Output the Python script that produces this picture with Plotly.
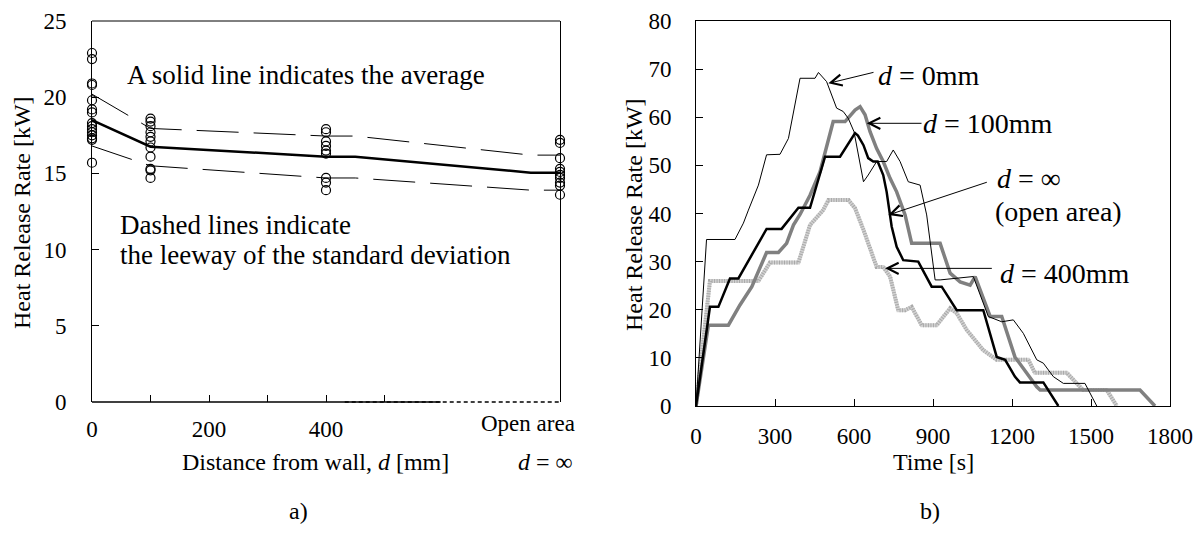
import plotly.graph_objects as go

# ---------------- Data: panel a) ----------------
d_positions = [0, 100, 400, 800]          # 800 = "Open area" position
hrr_d0 = [22.9, 22.5, 20.9, 20.8, 19.8, 19.2, 19.0, 18.3, 18.1, 17.9, 17.7, 17.5, 17.3, 17.2, 15.7]
hrr_d100 = [18.6, 18.4, 18.1, 17.7, 17.4, 17.1, 16.7, 16.1, 15.3, 15.2, 14.7]
hrr_d400 = [17.9, 17.7, 17.1, 16.8, 16.5, 16.3, 14.7, 14.4, 13.9]
hrr_open = [17.2, 17.0, 16.0, 15.3, 15.1, 14.9, 14.7, 14.4, 14.2, 13.6]

stat_x = [0, 100, 400, 450, 750, 800]
stat_avg = [18.5, 16.75, 16.1, 16.1, 15.05, 15.05]
stat_upper = [20.2, 17.95, 17.45, 17.45, 16.2, 16.2]
stat_lower = [16.8, 15.5, 14.7, 14.7, 13.9, 13.9]

a_xtickvals = [0, 100, 200, 300, 400, 500]
a_xticktext = ["0", "", "200", "", "400", ""]

# ---------------- Data: panel b) ----------------
t_d0 = [0, 40, 148, 180, 199, 237, 268, 319, 351, 395, 452, 465, 496, 534, 559, 578, 600, 636, 654,
        686, 724, 749, 775, 806, 851, 876, 908, 927, 1053, 1110, 1161, 1205, 1243, 1261, 1294, 1319,
        1357, 1395, 1477, 1522]
q_d0 = [0, 34.6, 34.6, 38.0, 40.7, 45.9, 52.2, 52.3, 55.6, 68.1, 68.1, 69.3, 67.4, 61.9, 61.2, 59.8,
        57.0, 46.6, 48.0, 50.8, 50.8, 53.2, 50.8, 46.6, 45.9, 39.7, 26.2, 26.2, 26.9, 18.6, 17.5, 17.9,
        15.1, 13.1, 9.6, 8.9, 6.1, 4.7, 4.7, 0]

t_d100 = [0, 47, 123, 167, 212, 268, 313, 344, 370, 395, 433, 471, 521, 566, 604, 623, 642, 661, 686,
          711, 737, 762, 794, 819, 927, 965, 1003, 1041, 1060, 1117, 1161, 1211, 1294, 1307, 1686, 1743]
q_d100 = [0, 16.8, 16.8, 21.0, 24.8, 31.9, 31.9, 33.8, 37.6, 39.8, 43.8, 48.7, 59.1, 59.1, 61.5, 62.2,
          60.5, 57.0, 53.5, 50.8, 47.3, 44.5, 39.7, 33.8, 33.8, 27.6, 25.8, 25.1, 26.9, 18.6, 18.6, 10.2,
          4.0, 3.3, 3.3, 0]

t_open = [0, 53, 85, 129, 161, 268, 325, 389, 433, 490, 547, 597, 604, 615, 636, 654, 673, 690, 711,
          724, 737, 743, 762, 787, 844, 895, 933, 990, 1091, 1142, 1174, 1211, 1230, 1319, 1376]
q_open = [0, 20.6, 20.6, 26.5, 26.5, 36.8, 36.8, 41.2, 41.2, 51.8, 51.8, 56.0, 56.7, 56.2, 54.2, 51.5,
          50.8, 50.8, 48.0, 44.5, 39.7, 37.3, 33.1, 30.3, 30.0, 24.8, 24.8, 19.9, 19.9, 10.2, 9.6, 6.1,
          4.9, 4.9, 0]

t_d400 = [0, 53, 237, 281, 389, 433, 483, 503, 579, 604, 636, 686, 711, 737, 768, 794, 819, 857, 914,
          965, 990, 1028, 1091, 1142, 1262, 1287, 1408, 1446, 1470, 1560, 1598]
q_d400 = [0, 26.0, 26.0, 29.8, 29.8, 37.6, 40.7, 42.8, 42.8, 41.1, 36.6, 28.9, 28.9, 26.9, 19.9, 19.9,
          20.6, 16.8, 16.8, 20.3, 19.3, 15.8, 11.6, 9.6, 9.6, 6.9, 6.9, 4.7, 3.3, 3.3, 0]

b_xtickvals = [0, 300, 600, 900, 1200, 1500, 1800]

# ---------------- Layout helpers (pixel -> paper) ----------------
W, H = 1204, 538
def px(x):
    return x / W
def py(y):
    return 1 - y / H

FONT = "Liberation Serif, Times New Roman, serif"

fig = go.Figure()

# ---- panel a) traces ----
for xpos, vals in zip(d_positions, [hrr_d0, hrr_d100, hrr_d400, hrr_open]):
    fig.add_trace(go.Scatter(
        x=[xpos] * len(vals), y=vals, mode="markers",
        marker=dict(symbol="circle-open", size=9, color="black", line=dict(width=1.2, color="black")),
        xaxis="x", yaxis="y", showlegend=False, cliponaxis=False))

fig.add_trace(go.Scatter(x=stat_x, y=stat_upper, mode="lines",
                         line=dict(color="black", width=1, dash="42px,15px"),
                         xaxis="x", yaxis="y", showlegend=False))
fig.add_trace(go.Scatter(x=stat_x, y=stat_lower, mode="lines",
                         line=dict(color="black", width=1, dash="42px,15px"),
                         xaxis="x", yaxis="y", showlegend=False))
fig.add_trace(go.Scatter(x=stat_x, y=stat_avg, mode="lines",
                         line=dict(color="black", width=2.5),
                         xaxis="x", yaxis="y", showlegend=False))

# ---- panel b) traces ----
# d = 400 mm: light grey hatched line (base + striped overlay)
fig.add_trace(go.Scatter(x=t_d400, y=q_d400, mode="lines",
                         line=dict(color="#d2d2d2", width=4),
                         xaxis="x2", yaxis="y2", showlegend=False))
fig.add_trace(go.Scatter(x=t_d400, y=q_d400, mode="lines",
                         line=dict(color="#a9a9a9", width=4, dash="1px,1.5px"),
                         xaxis="x2", yaxis="y2", showlegend=False, hoverinfo="skip"))
fig.add_trace(go.Scatter(x=t_d100, y=q_d100, mode="lines",
                         line=dict(color="#808080", width=3.5),
                         xaxis="x2", yaxis="y2", showlegend=False))
fig.add_trace(go.Scatter(x=t_open, y=q_open, mode="lines",
                         line=dict(color="black", width=2.5),
                         xaxis="x2", yaxis="y2", showlegend=False))
fig.add_trace(go.Scatter(x=t_d0, y=q_d0, mode="lines",
                         line=dict(color="black", width=1),
                         xaxis="x2", yaxis="y2", showlegend=False))

tickfont = dict(family=FONT, size=23, color="black")

fig.update_layout(
    template="none",
    width=W, height=H,
    margin=dict(l=0, r=0, t=0, b=0, autoexpand=False),
    paper_bgcolor="white", plot_bgcolor="white",
    font=dict(family=FONT, color="black"),
    xaxis=dict(domain=[px(92), px(560)], range=[0, 800], tickvals=a_xtickvals, ticktext=a_xticktext,
               ticks="inside", ticklen=7, tickcolor="black", showline=False, showgrid=False,
               zeroline=False, tickfont=tickfont, ticklabelstandoff=11, anchor="y", automargin=False),
    yaxis=dict(domain=[py(402), py(21)], range=[0, 25], dtick=5, tick0=0,
               ticks="inside", ticklen=7, tickcolor="black", showline=True, mirror=True,
               linecolor="black", linewidth=1, showgrid=False, zeroline=False,
               tickfont=tickfont, ticklabelstandoff=20, anchor="x", automargin=False),
    xaxis2=dict(domain=[px(696), px(1170)], range=[0, 1800], tickvals=b_xtickvals,
                ticks="inside", ticklen=7, tickcolor="black", showline=True, mirror=True,
                linecolor="black", linewidth=1, showgrid=False, zeroline=False,
                tickfont=tickfont, ticklabelstandoff=9, anchor="y2", automargin=False),
    yaxis2=dict(domain=[py(406), py(21)], range=[0, 80], dtick=10, tick0=0,
                ticks="inside", ticklen=7, tickcolor="black", showline=True, mirror=True,
                linecolor="black", linewidth=1, showgrid=False, zeroline=False,
                tickfont=tickfont, ticklabelstandoff=19, anchor="x2", automargin=False),
)

# frame for panel a): top line, bottom solid part, bottom dashed part (open area)
fig.add_shape(type="line", xref="x domain", yref="y domain", x0=0, x1=1, y0=1, y1=1,
              line=dict(color="black", width=1))
fig.add_shape(type="line", xref="x domain", yref="y domain", x0=0, x1=0.745, y0=0, y1=0,
              line=dict(color="black", width=1.5))
fig.add_shape(type="line", xref="x domain", yref="y domain", x0=0.54, x1=1, y0=0, y1=0,
              line=dict(color="black", width=1.5, dash="4px,3px"))

ann = []
def text(x, y, s, size, xanchor="left", angle=0):
    ann.append(dict(x=px(x), y=py(y), xref="paper", yref="paper", text=s, showarrow=False,
                    xanchor=xanchor, yanchor="middle", textangle=angle,
                    font=dict(family=FONT, size=size, color="black")))

# panel a) texts
text(125, 75, "A solid line indicates the average", 27)
text(118, 225, "Dashed lines indicate", 27)
text(118, 255, "the leeway of the standard deviation", 27)
text(528, 423, "Open area", 23, xanchor="center")
text(545, 462, "<i>d</i> = ∞", 24, xanchor="center")
text(315, 462, "Distance from wall, <i>d</i> [mm]", 24, xanchor="center")
text(22, 213, "Heat Release Rate [kW]", 24, xanchor="center", angle=-90)
text(298, 511, "a)", 24, xanchor="center")

# panel b) texts
text(634, 214, "Heat Release Rate [kW]", 24, xanchor="center", angle=-90)
text(933, 462, "Time [s]", 24, xanchor="center")
text(930, 511, "b)", 24, xanchor="center")
text(876, 75, "<i>d</i> = 0mm", 28)
text(921, 123.5, "<i>d</i> = 100mm", 28)
text(995, 178.5, "<i>d</i> = ∞", 28)
text(993, 211.5, "(open area)", 28)
text(998, 273.5, "<i>d</i> = 400mm", 28)

# arrows (head -> tail in panel b data coordinates)
arrows = [((502.6, 67.05), (679.8, 69.4)),
          ((648.3, 58.74), (862.1, 58.74)),
          ((730.3, 39.69), (1110.1, 46.6)),
          ((717.8, 28.6), (1129.1, 28.6))]
for (hx, hy), (tx, ty) in arrows:
    ann.append(dict(x=hx, y=hy, xref="x2", yref="y2", ax=tx, ay=ty, axref="x2", ayref="y2",
                    text="", showarrow=True, arrowhead=5, arrowsize=2.2, arrowwidth=1,
                    arrowcolor="black", standoff=0, startstandoff=0))

fig.update_layout(annotations=ann)

fig.write_html("out.html",
               config={"displayModeBar": False},
               post_script="document.body.style.margin='0';document.body.style.overflow='hidden';")
